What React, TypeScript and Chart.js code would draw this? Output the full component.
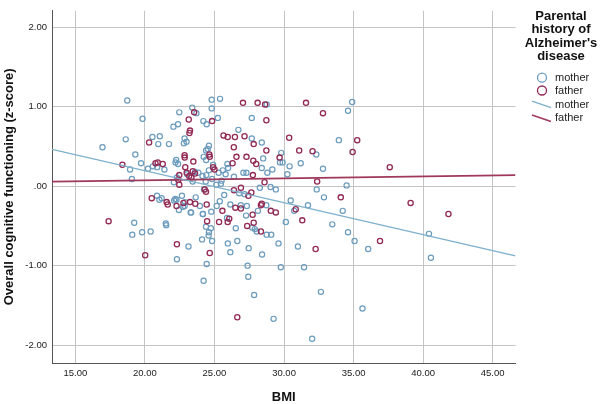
import { useEffect, useRef } from "react";
import { Chart, registerables } from "chart.js";
Chart.register(...registerables);

// ---- data ----
const motherBMI = [
  18.73, 24.8, 25.4, 28.75, 34.9, 23.4, 24.8, 22.47, 34.6, 19.83, 25.24, 27.68, 24.2, 24.44, 22.05, 22.38, 26.72,
  18.62, 20.54, 21.07, 33.94, 22.85, 22.99, 27.68, 28.4, 20.96, 21.73, 22.8, 24.6, 16.95, 24.52, 29.8, 19.31,
  24.22, 32.32, 28.5, 22.25, 24.4, 19.72, 22.38, 25.93, 29.71, 31.2, 30.4, 20.22, 20.57, 21.4, 18.93, 25.98,
  29.16, 32.8, 23.6, 23.84, 23.04, 25.3, 27.08, 27.3, 25.8, 30.24, 28.8, 24.14, 24.41, 22.3, 19.06, 23.43,
  24.83, 25.51, 22.08, 25.13, 25.46, 29.03, 29.41, 34.5, 28.26, 32.35, 24.25, 25.7, 20.87, 22.66, 21.2, 26.78,
  27.16, 23.65, 32.87, 22.27, 22.19, 22.88, 22.85, 23.95, 25.38, 25.16, 26.14, 30.48, 31.72, 26.89, 27.33,
  28.73, 22.44, 22.74, 24.17, 23.29, 30.73, 34.22, 24.77, 28.12, 27.27, 19.23, 21.5, 21.53, 30.13, 25.9,
  24.39, 33.47, 24.74, 26.53, 27.71, 20.41, 19.8, 24.6, 19.09, 28.75, 29.08, 28.04, 34.6, 40.42, 24.11, 24.83,
  24.58, 26.64, 35.07, 29.6, 23.13, 27.46, 31.0, 36.05, 26.14, 28.42, 22.3, 40.56, 24.44, 27.38, 29.77, 31.44,
  27.43, 24.22, 27.85, 32.65, 35.64, 29.25, 32.02,
  23.7, 24.4, 22.2, 20.88, 24.9, 24.37, 21.04, 22.1, 25.96, 27.9, 26.4, 29.9, 25.6, 24.6, 28.4, 24.16, 23.32
];
const motherZ = [
  1.08, 1.09, 1.1, 1.03, 1.06, 0.99, 0.98, 0.93, 0.95, 0.85, 0.86, 0.86, 0.82, 0.78, 0.75, 0.78, 0.71,
  0.59, 0.62, 0.63, 0.58, 0.6, 0.56, 0.6, 0.55, 0.53, 0.53, 0.54, 0.51, 0.49, 0.47, 0.42, 0.4,
  0.37, 0.4, 0.35, 0.33, 0.33, 0.29, 0.28, 0.28, 0.3, 0.29, 0.25, 0.22, 0.25, 0.21, 0.21, 0.23,
  0.21, 0.22, 0.18, 0.17, 0.15, 0.17, 0.17, 0.17, 0.15, 0.15, 0.17, 0.13, 0.14, 0.11, 0.09, 0.06,
  0.09, 0.07, 0.05, 0.02, 0.03, -0.01, -0.04, 0.01, -0.02, -0.04, -0.04, -0.11, -0.12, -0.12, -0.15, -0.09,
  -0.1, -0.14, -0.14, -0.17, -0.16, -0.2, -0.25, -0.25, -0.19, -0.25, -0.23, -0.18, -0.24, -0.24, -0.25,
  -0.24, -0.3, -0.26, -0.35, -0.33, -0.31, -0.31, -0.32, -0.31, -0.37, -0.46, -0.47, -0.49, -0.45, -0.4,
  -0.51, -0.48, -0.53, -0.53, -0.52, -0.57, -0.58, -0.58, -0.61, -0.61, -0.61, -0.57, -0.58, -0.6, -0.67, -0.69,
  -0.62, -0.69, -0.69, -0.72, -0.76, -0.78, -0.76, -0.79, -0.83, -0.86, -0.92, -0.9, -0.98, -1.0, -1.02, -1.02,
  -1.14, -1.19, -1.37, -1.33, -1.54, -1.67, -1.92,
  0.92, 0.45, 0.3, 0.24, 0.27, 0.06, -0.17, -0.18, -0.72, -0.54, 0.12, 0.3, 0.2, 0.2, 0.23, -0.35, -0.33
];
const fatherBMI = [
  27.05, 28.1, 28.64, 31.58, 23.54, 32.8, 23.15, 24.83, 28.73, 23.24, 25.65, 25.95, 26.47, 27.16, 30.37, 35.26,
  20.3, 26.39, 27.82, 28.73, 31.09, 32.05, 34.93, 22.85, 24.63, 24.66, 26.58, 27.3, 29.68, 23.48, 27.79, 26.3,
  20.76, 21.28, 18.38, 28.0, 37.6, 22.9, 24.9, 25.0, 23.18, 23.34, 22.47, 27.76, 28.6, 32.38, 22.47, 24.39,
  20.49, 27.44, 27.65, 34.08, 21.56, 21.64, 23.24, 23.62, 22.27, 24.44, 28.4, 28.34, 39.1, 26.5, 25.57, 29.05,
  30.84, 29.41, 41.82, 27.74, 26.06, 31.31, 25.33, 24.47, 25.95, 27.82, 17.39, 27.35, 28.34, 36.9, 22.3, 32.27,
  24.66, 20.02, 26.64,
  26.9, 26.4, 23.2, 22.86, 20.92, 23.0, 22.4, 23.44, 23.6, 24.3, 22.77, 26.9
];
const fatherZ = [
  1.05, 1.05, 1.03, 1.05, 0.93, 0.92, 0.84, 0.82, 0.83, 0.7, 0.64, 0.62, 0.62, 0.63, 0.61, 0.58,
  0.55, 0.49, 0.53, 0.45, 0.45, 0.44, 0.43, 0.39, 0.4, 0.37, 0.37, 0.37, 0.36, 0.31, 0.32, 0.29,
  0.29, 0.28, 0.27, 0.28, 0.24, 0.24, 0.24, 0.21, 0.13, 0.11, 0.14, 0.14, 0.05, 0.06, 0.02, -0.07,
  -0.15, -0.12, -0.08, -0.14, -0.2, -0.23, -0.2, -0.22, -0.25, -0.23, -0.22, -0.24, -0.21, -0.27, -0.31, -0.31,
  -0.29, -0.33, -0.35, -0.36, -0.41, -0.43, -0.45, -0.44, -0.45, -0.46, -0.44, -0.5, -0.57, -0.69, -0.73, -0.79,
  -0.84, -0.87, -1.65,
  -0.02, -0.05, 0.67, 0.36, 0.3, 0.17, 0.08, 0.19, 0.16, -0.04, -0.21, -0.28
];
const fitBMI = [13.32, 46.64];
const motherFitZ = [0.463, -0.876];
const fatherFitZ = [0.058, 0.14];

const xTicks = [15, 20, 25, 30, 35, 40, 45];
const xTickLabels = ["15.00", "20.00", "25.00", "30.00", "35.00", "40.00", "45.00"];
const yTicks = [-2, -1, 0, 1, 2];
const yTickLabels = ["-2.00", "-1.00", ".00", "1.00", "2.00"];
const xRange = [13.32, 46.64];
const yRange = [-2.226, 2.21];

const xTitle = "BMI";
const yTitle = "Overall cognitive functioning (z-score)";
const legendTitle = ["Parental", "history of", "Alzheimer's", "disease"];
const legendLabels = ["mother", "father", "mother", "father"];

const MOTHER_PT = "#6b9bbd";
const FATHER_PT = "#922a55";
const MOTHER_LINE = "#7eb0cc";
const FATHER_LINE = "#a0385a";
const FONT = '"Liberation Sans", Arial, sans-serif';

const zip = (xs: number[], ys: number[]) => xs.map((x, i) => ({ x, y: ys[i] }));

const legendPlugin = {
  id: "spssLegend",
  afterDraw(chart: any) {
    const ctx = chart.ctx as CanvasRenderingContext2D;
    ctx.save();
    ctx.fillStyle = "#111";
    ctx.textAlign = "center";
    ctx.textBaseline = "middle";
    ctx.font = `bold 13px ${FONT}`;
    legendTitle.forEach((t, i) => ctx.fillText(t, 561, 16 + i * 13.6));

    ctx.textAlign = "left";
    ctx.font = `11px ${FONT}`;
    const rows = [77.7, 90.5, 104.5, 118.3];
    const colors = [MOTHER_PT, FATHER_PT, MOTHER_LINE, FATHER_LINE];
    rows.forEach((y, i) => {
      ctx.strokeStyle = colors[i];
      if (i < 2) {
        ctx.lineWidth = 1.3;
        ctx.beginPath();
        ctx.arc(542, y, 4.5, 0, Math.PI * 2);
        ctx.stroke();
      } else {
        ctx.lineWidth = 1.4;
        ctx.beginPath();
        ctx.moveTo(532, y - 3.3);
        ctx.lineTo(551, y + 3.2);
        ctx.stroke();
      }
      ctx.fillStyle = "#222";
      ctx.fillText(legendLabels[i], 555, y);
    });
    ctx.restore();
  },
};

export default function App() {
  const ref = useRef<HTMLCanvasElement | null>(null);
  useEffect(() => {
    if (!ref.current) return;
    Chart.defaults.font.family = FONT;
    const chart = new Chart(ref.current, {
      type: "scatter",
      data: {
        datasets: [
          {
            type: "line",
            label: "mother fit",
            data: zip(fitBMI, motherFitZ),
            borderColor: MOTHER_LINE,
            borderWidth: 1.3,
            pointRadius: 0,
            showLine: true,
            fill: false,
            order: 0,
          } as any,
          {
            type: "line",
            label: "father fit",
            data: zip(fitBMI, fatherFitZ),
            borderColor: FATHER_LINE,
            borderWidth: 1.6,
            pointRadius: 0,
            showLine: true,
            fill: false,
            order: 0,
          } as any,
          {
            label: "father",
            data: zip(fatherBMI, fatherZ),
            borderColor: FATHER_PT,
            backgroundColor: "rgba(0,0,0,0)",
            pointRadius: 2.6,
            borderWidth: 1.3,
            order: 1,
          },
          {
            label: "mother",
            data: zip(motherBMI, motherZ),
            borderColor: MOTHER_PT,
            backgroundColor: "rgba(0,0,0,0)",
            pointRadius: 2.6,
            borderWidth: 1.2,
            order: 2,
          },
        ],
      },
      options: {
        responsive: false,
        animation: false,
        layout: { padding: { left: 0, right: 84.5, top: 5, bottom: 0 } },
        plugins: { legend: { display: false }, tooltip: { enabled: false } },
        scales: {
          x: {
            type: "linear",
            min: xRange[0],
            max: xRange[1],
            afterBuildTicks: (s: any) => {
              s.ticks = xTicks.map((v) => ({ value: v }));
            },
            afterFit: (s: any) => {
              s.height = 41;
            },
            ticks: {
              padding: 5,
              color: "#1a1a1a",
              font: { size: 9.5 },
              maxRotation: 0,
              autoSkip: false,
              callback: (v: any) => xTickLabels[xTicks.indexOf(Number(v))] ?? "",
            },
            grid: { color: "#c4c4c4", lineWidth: 1, drawTicks: false },
            border: { display: true, color: "#555", width: 1 },
            title: {
              display: true,
              text: xTitle,
              color: "#111",
              font: { size: 13, weight: "bold", lineHeight: 1 },
              padding: { top: 0, bottom: 0 },
            },
          },
          y: {
            type: "linear",
            min: yRange[0],
            max: yRange[1],
            afterBuildTicks: (s: any) => {
              s.ticks = yTicks.map((v) => ({ value: v }));
            },
            afterFit: (s: any) => {
              s.width = 52;
            },
            ticks: {
              padding: 5,
              color: "#1a1a1a",
              font: { size: 9.5 },
              autoSkip: false,
              callback: (v: any) => yTickLabels[yTicks.indexOf(Number(v))] ?? "",
            },
            grid: { color: "#c4c4c4", lineWidth: 1, drawTicks: false },
            border: { display: true, color: "#555", width: 1 },
            title: {
              display: true,
              text: yTitle,
              color: "#111",
              font: { size: 13, weight: "bold", lineHeight: 1 },
              padding: { top: 3, bottom: 0 },
            },
          },
        },
      },
      plugins: [legendPlugin],
    });
    return () => chart.destroy();
  }, []);
  return (
    <div style={{ position: "fixed", left: 0, top: 0, width: 600, height: 404, background: "#fff" }}>
      <canvas ref={ref} width={600} height={404} style={{ display: "block" }} />
    </div>
  );
}
